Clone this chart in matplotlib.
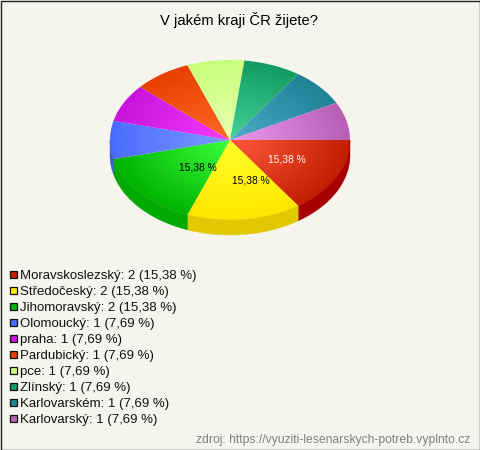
import numpy as np
import matplotlib
matplotlib.use('Agg')
import matplotlib.pyplot as plt
from matplotlib.colors import LinearSegmentedColormap
from matplotlib.patches import Polygon, Rectangle

plt.rcParams['font.family'] = ['Liberation Sans', 'DejaVu Sans']

# data
title = 'V jakém kraji ČR žijete?'
source = 'zdroj: https://vyuziti-lesenarskych-potreb.vyplnto.cz'
categories = ['Moravskoslezský', 'Středočeský', 'Jihomoravský', 'Olomoucký', 'praha',
              'Pardubický', 'pce', 'Zlínský', 'Karlovarském', 'Karlovarský']
counts = [2, 2, 2, 1, 1, 1, 1, 1, 1, 1]
percents = ['15,38', '15,38', '15,38', '7,69', '7,69', '7,69', '7,69', '7,69', '7,69', '7,69']

# colours: legend/edge, slice centre, pie side
edge_colors = ['#c41e00', '#ffe600', '#00b400', '#4b6bff', '#c814dc',
               '#e84000', '#c8ff78', '#129c62', '#1e8296', '#b85fb5']
center_colors = ['#ff5a3c', '#ffff28', '#3cff3c', '#7a9cff', '#f53cff',
                 '#ff6a24', '#e8ffb4', '#46d296', '#50aac8', '#ec98f0']
side_colors = ['#a80000', '#e2c800', '#00aa00', '#3a5ccc', '#a010b0',
               '#b83000', '#a0cc60', '#0e7c4e', '#186878', '#904c90']

# pie layout in pixels
cx, cy = 230, 140
rx, ry = 120, 80
depth = 15
bg = '#f5f5ee'

fig = plt.figure(figsize=(4.8, 4.5), dpi=100, facecolor=bg)
ax = fig.add_axes([0, 0, 1, 1])
ax.set_xlim(0, 480)
ax.set_ylim(450, 0)
ax.axis('off')

total = sum(counts)
bounds = np.cumsum([0] + counts) / total * 2 * np.pi


def rim(a0, a1, n=80):
    t = np.linspace(a0, a1, n)
    return cx + rx * np.cos(t), cy + ry * np.sin(t)


# side of the pie, only the front half shows
for i in range(len(counts)):
    a0, a1 = bounds[i], min(bounds[i + 1], np.pi)
    if a0 >= np.pi:
        continue
    x, y = rim(a0, a1)
    pts = list(zip(x, y)) + list(zip(x[::-1], y[::-1] + depth))
    ax.add_patch(Polygon(pts, closed=True, fc=side_colors[i], ec=side_colors[i], lw=0.3))

# top of the slices with a radial gradient
xs = np.linspace(cx - rx, cx + rx, 481)
ys = np.linspace(cy - ry, cy + ry, 321)
gx, gy = np.meshgrid(xs, ys)
dist = np.clip(np.hypot((gx - cx) / rx, (gy - cy) / ry), 0, 1)
for i in range(len(counts)):
    cmap = LinearSegmentedColormap.from_list('s%d' % i, [center_colors[i], edge_colors[i]])
    im = ax.imshow(dist, cmap=cmap, vmin=0, vmax=1, origin='upper', aspect='auto',
                   extent=(cx - rx, cx + rx, cy + ry, cy - ry), interpolation='bilinear')
    x, y = rim(bounds[i], bounds[i + 1])
    pts = [(cx, cy)] + list(zip(x, y))
    clip = Polygon(pts, closed=True, fc='none', ec='none', transform=ax.transData)
    ax.add_patch(clip)
    im.set_clip_path(clip)
ax.set_xlim(0, 480)
ax.set_ylim(450, 0)

# value labels on the big slices
label_colors = ['white', 'black', 'black']
label_dx = [4, 14, 13]
for i in range(3):
    mid = (bounds[i] + bounds[i + 1]) / 2
    lx = cx + 0.5 * rx * np.cos(mid) + label_dx[i]
    ly = cy + 0.5 * ry * np.sin(mid) + 0.5
    ax.text(lx, ly, percents[i] + ' %', color=label_colors[i], fontsize=7.4,
            ha='center', va='center')

ax.text(238.5, 25, title, fontsize=10.6, ha='center', va='baseline', color='black')

# legend
for i, name in enumerate(categories):
    y = 274 + 16 * i
    ax.add_patch(Rectangle((10, y - 3.5), 7, 7, fc=edge_colors[i], ec='#111111', lw=0.9))
    ax.text(20, y + 4.5, '%s: %d (%s %%)' % (name, counts[i], percents[i]), fontsize=9.5,
            ha='left', va='baseline', color='#111111')

ax.text(470.5, 443, source, fontsize=8.75, ha='right', va='baseline', color='#808080')

# frame
ax.add_patch(Rectangle((0.5, 0.5), 479, 449, fc='none', ec='#222222', lw=1, clip_on=False))

fig.savefig('out.png', dpi=100, facecolor=bg)
